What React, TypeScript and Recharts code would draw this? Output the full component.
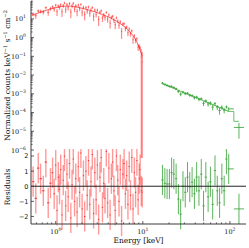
import React from 'react';
import { ComposedChart, Scatter, Line, XAxis, YAxis, ErrorBar, ReferenceLine } from 'recharts';

// soft band (red): bin centres in keV, flux, 1-sigma error, residual
const redEnergy = [
  0.55, 0.59, 0.63, 0.67, 0.72, 0.77, 0.82, 0.87, 0.92, 0.96,
  1.0, 1.035, 1.07, 1.105, 1.14, 1.18, 1.22, 1.26, 1.3, 1.345,
  1.39, 1.44, 1.49, 1.54, 1.59, 1.645, 1.7, 1.76, 1.82, 1.88,
  1.945, 2.01, 2.08, 2.15, 2.22, 2.3, 2.38, 2.46, 2.54, 2.63,
  2.72, 2.81, 2.91, 3.01, 3.11, 3.22, 3.33, 3.44, 3.56, 3.68,
  3.81, 3.94, 4.07, 4.21, 4.35, 4.5, 4.66, 4.82, 4.98, 5.15,
  5.33, 5.51, 5.7, 5.9, 6.1, 6.31, 6.52, 6.75, 6.98, 7.22,
  7.47, 7.72, 7.99, 8.26, 8.55, 8.84, 9.1, 9.32, 9.6, 9.85,
];
const redFlux = [
  17.7, 14.8, 26.6, 25.3, 23.3, 39.4, 22.4, 35.2, 44.1, 33.3,
  54, 24.7, 48.7, 41.3, 57, 24, 51, 70.8, 32.4, 57.6,
  39.6, 66, 22.8, 48.4, 67.1, 33.8, 49.5, 24.6, 54.5, 35.7,
  59, 23, 41.6, 17, 40.9, 26.6, 42.8, 20.1, 29.6, 40.2,
  13.8, 29.3, 17.7, 29.2, 9.3, 22.2, 26.9, 11.1, 16.7, 12,
  22.1, 9.6, 16.1, 6, 12, 13.8, 8.4, 4.9, 11.4, 7.6,
  4.6, 7.1, 2.1, 5.4, 5.5, 3.05, 3.66, 1.82, 2.9, 1.6,
  2.3, 0.77, 1.23, 0.72, 0.87, 0.31, 0.35, 0.28, 0.09, 0.05,
];
const redErr = [
  4.1, 4.6, 5.1, 5.6, 6.3, 7.0, 7.8, 8.4, 9.0, 9.5,
  10, 10.3, 10.6, 10.9, 11.2, 11.4, 11.6, 11.8, 12, 12,
  12, 12, 12, 11.8, 11.6, 11.3, 11, 10.6, 10.3, 9.9,
  9.5, 9.2, 8.8, 8.5, 8.2, 7.8, 7.5, 7.2, 6.9, 6.6,
  6.3, 6.0, 5.7, 5.4, 5.1, 4.8, 4.6, 4.3, 4.0, 3.8,
  3.5, 3.3, 3.1, 2.9, 2.7, 2.5, 2.3, 2.1, 1.9, 1.7,
  1.6, 1.4, 1.25, 1.1, 1.0, 0.9, 0.8, 0.65, 0.55, 0.48,
  0.4, 0.32, 0.26, 0.21, 0.16, 0.12, 0.09, 0.07, 0.16, 0.12,
];
const redResid = [
  0.3, -0.8, 1.2, 0.5, -0.3, 1.6, -1.1, 0.2, 0.9, -0.5,
  1.4, -1.6, 0.6, -0.2, 1.1, -1.9, 0.4, 2.0, -1.3, 0.8,
  -0.7, 1.5, -2.1, 0.1, 1.8, -1.0, 0.5, -1.7, 1.3, -0.4,
  2.2, -1.5, 0.7, -2.0, 1.0, -0.6, 1.7, -1.2, 0.3, 2.1,
  -1.8, 0.9, -0.9, 1.4, -2.2, 0.6, 1.9, -1.4, 0.2, -0.8,
  2.3, -1.1, 1.2, -1.9, 0.5, 1.6, -0.3, -1.6, 2.0, 0.4,
  -1.0, 1.1, -2.3, 0.8, 1.5, -0.5, 0.7, -1.2, 1.3, -0.6,
  1.9, -1.5, 0.9, -0.4, 1.7, -0.9, 0.5, 1.1, -0.3, -0.4,
];
const redModelE = [0.53, 0.6, 0.7, 0.8, 0.9, 1.0, 1.15, 1.3, 1.5, 1.7, 1.95, 2.2, 2.5, 2.8, 3.2, 3.6, 4.0, 4.5, 5.0, 5.5, 6.0, 6.5, 7.0, 7.5, 8.0, 8.5, 9.0, 9.5, 9.85];
const redModelFlux = [15.5, 19, 24, 30, 35, 40, 45, 48, 48, 44, 38, 33, 28, 24, 19.5, 15.5, 12.8, 9.8, 7.5, 5.6, 4.2, 3.1, 2.2, 1.5, 1.0, 0.62, 0.34, 0.16, 0.1];

// hard band (green)
const greenEnergy = [16.8, 17.9, 19.0, 20.2, 21.4, 22.7, 24.1, 25.6, 27.2, 28.9, 30.7, 32.6, 34.6, 36.8, 39.1, 41.5, 44.1, 46.9, 49.8, 52.9, 56.2, 59.7, 63.4, 67.4, 71.6, 76.1, 80.8, 85.9, 91.2, 96.9, 127];
const greenFlux = [3.72e-3, 3.18e-3, 2.82e-3, 2.51e-3, 2.49e-3, 2.18e-3, 1.87e-3, 1.34e-3, 0.96e-3, 1.22e-3, 1.02e-3, 1.07e-3, 8.5e-4, 8.0e-4, 6.2e-4, 6.7e-4, 5.1e-4, 5.5e-4, 3.1e-4, 4.2e-4, 2.85e-4, 3.2e-4, 1.95e-4, 3.0e-4, 1.93e-4, 1.29e-4, 1.9e-4, 1.35e-4, 2.0e-4, 1.57e-4, 1.6e-5];
const greenErr = [5.3e-4, 4.6e-4, 4.1e-4, 3.7e-4, 3.3e-4, 2.9e-4, 2.6e-4, 2.5e-4, 2.2e-4, 2.0e-4, 1.8e-4, 1.65e-4, 1.5e-4, 1.4e-4, 1.25e-4, 1.15e-4, 1.05e-4, 9.5e-5, 8.9e-5, 8.3e-5, 7.7e-5, 7.2e-5, 6.6e-5, 6.1e-5, 5.7e-5, 5.2e-5, 4.8e-5, 4.4e-5, 3.9e-5, 3.5e-5, 1.2e-5];
const greenResid = [0.42, 0.2, 0.15, 0.15, 0.9, 0.8, 0.5, -0.85, -1.85, 0, -0.4, 0.6, -0.05, 0.27, -0.5, 0.6, -0.3, 0.8, -1.3, 0.6, -0.7, 0.3, -1.2, 1.04, -0.3, -1.1, 0.5, -0.3, 1.8, 1.15, -1.5];
const greenModel = [3.5e-3, 3.09e-3, 2.76e-3, 2.45e-3, 2.19e-3, 1.95e-3, 1.74e-3, 1.55e-3, 1.37e-3, 1.22e-3, 1.09e-3, 9.7e-4, 8.6e-4, 7.65e-4, 6.8e-4, 6.06e-4, 5.38e-4, 4.77e-4, 4.25e-4, 3.78e-4, 3.36e-4, 2.99e-4, 2.66e-4, 2.36e-4, 2.1e-4, 1.87e-4, 1.66e-4, 1.45e-4, 1.28e-4, 1.15e-4, 3.4e-5];

// axes
const X_DOMAIN = [0.52, 153];
const Y_DOMAIN = [1e-6, 90];
const R_DOMAIN = [-2.5, 2.4];
const xTicks = [0.6, 0.7, 0.8, 0.9, 1, 2, 3, 4, 5, 6, 7, 8, 9, 10, 20, 30, 40, 50, 60, 70, 80, 90, 100];
const yDecades = [1e-6, 1e-5, 1e-4, 1e-3, 1e-2, 1e-1, 1, 10];
const yTicks = yDecades.flatMap((d) => [1, 2, 3, 4, 5, 6, 7, 8, 9].map((k) => k * d)).filter((v) => v <= 90);
const rTicks = [-2, -1, 0, 1, 2];

const AXIS = '#3a3a3a';
const RED_BAR = 'rgba(255,20,20,0.5)';
const RED_RES = 'rgba(255,30,30,0.45)';
const RED_MODEL = 'rgba(235,0,0,0.75)';
const GREEN_BAR = 'rgba(50,160,50,0.8)';
const GREEN_MODEL = 'rgba(80,180,80,0.85)';

// half bin widths in keV from neighbouring bin centres
const binHalf = (e: number[]) =>
  e.map((v, i) => {
    const lo = i > 0 ? Math.sqrt(v * e[i - 1]) : (v * v) / Math.sqrt(v * e[i + 1]);
    const hi = i < e.length - 1 ? Math.sqrt(v * e[i + 1]) : (v * v) / Math.sqrt(v * e[i - 1]);
    return [v - lo, hi - v];
  });

const redHalf = binHalf(redEnergy);
const redRows = redEnergy.map((e, i) => ({
  e,
  f: redFlux[i],
  ey: [redErr[i] < redFlux[i] ? redErr[i] : redFlux[i] - 1e-9, redErr[i]],
  ex: redHalf[i],
  r: redResid[i],
  ry: 1,
}));
const greenHalf = binHalf(greenEnergy);
const greenRows = greenEnergy.map((e, i) => ({
  e,
  f: greenFlux[i],
  ey: greenErr[i],
  ex: greenHalf[i],
  r: greenResid[i],
  ry: 1,
}));
const redModelRows = redModelE.map((e, i) => ({ e, m: redModelFlux[i] }));
const greenModelRows = greenEnergy.map((e, i) => ({ e, m: greenModel[i] }));

const isDecade = (v: number) => Math.abs(Math.log10(v) - Math.round(Math.log10(v))) < 1e-6;
const expText = (v: number) => String(Math.round(Math.log10(v))).replace('-', '\u2212');

const Pow = ({ x, y, v, anchor }: any) => (
  <text x={x} y={y} textAnchor={anchor} fontFamily="DejaVu Serif" fontSize={6.5} fill="#111">
    10
    <tspan dy={-3} fontSize={4.6}>
      {expText(v)}
    </tspan>
  </text>
);

const xTick = (dir: number, labels: boolean) => (p: any) => {
  const v = p.payload.value;
  const major = isDecade(v);
  const len = major ? 3 : 1.6;
  return (
    <g>
      <line x1={p.x} x2={p.x} y1={p.y} y2={p.y + dir * len} stroke={AXIS} strokeWidth={0.8} />
      {labels && major && <Pow x={p.x} y={p.y + 10} v={v} anchor="middle" />}
    </g>
  );
};

const logYTick = (dir: number, labels: boolean) => (p: any) => {
  const v = p.payload.value;
  const major = isDecade(v);
  const len = major ? 3 : 1.6;
  return (
    <g>
      <line x1={p.x} x2={p.x + dir * len} y1={p.y} y2={p.y} stroke={AXIS} strokeWidth={0.8} />
      {labels && major && <Pow x={p.x - 5} y={p.y + 2.5} v={v} anchor="end" />}
    </g>
  );
};

const linYTick = (dir: number, labels: boolean) => (p: any) => {
  const v = p.payload.value;
  return (
    <g>
      <line x1={p.x} x2={p.x + dir * 3} y1={p.y} y2={p.y} stroke={AXIS} strokeWidth={0.8} />
      {labels && (
        <text x={p.x - 2.5} y={p.y + 2.4} textAnchor="end" fontFamily="DejaVu Sans" fontSize={6.5} fill="#111">
          {String(v).replace('-', '\u2212')}
        </text>
      )}
    </g>
  );
};

const noDot = () => <g />;

const axisCommon = { axisLine: { stroke: AXIS, strokeWidth: 1 }, tickLine: false, tickSize: 0, tickMargin: 0, interval: 0 as const };

const SpectrumPanel = () => (
  <ComposedChart width={249} height={158} margin={{ top: 1, right: 3, bottom: 8, left: 0 }}>
    <XAxis xAxisId="b" dataKey="e" type="number" scale="log" domain={X_DOMAIN} allowDataOverflow ticks={xTicks} height={0} tick={xTick(-1, false)} {...axisCommon} />
    <XAxis xAxisId="t" dataKey="e" type="number" scale="log" domain={X_DOMAIN} allowDataOverflow ticks={xTicks} orientation="top" height={0} tick={xTick(1, false)} {...axisCommon} />
    <YAxis yAxisId="l" type="number" scale="log" domain={Y_DOMAIN} allowDataOverflow ticks={yTicks} width={31} tick={logYTick(1, true)} {...axisCommon} />
    <YAxis yAxisId="r" type="number" scale="log" domain={Y_DOMAIN} allowDataOverflow ticks={yTicks} orientation="right" width={0} tick={logYTick(-1, false)} {...axisCommon} />
    <Line xAxisId="b" yAxisId="l" data={redModelRows} dataKey="m" type="linear" stroke={RED_MODEL} strokeWidth={0.8} dot={false} activeDot={false} isAnimationActive={false} />
    <Scatter xAxisId="b" yAxisId="l" data={redRows} dataKey="f" shape={noDot} isAnimationActive={false}>
      <ErrorBar dataKey="ey" direction="y" width={0} stroke={RED_BAR} strokeWidth={1.2} />
      <ErrorBar dataKey="ex" direction="x" width={0} stroke={RED_BAR} strokeWidth={1} />
    </Scatter>
    <Line xAxisId="b" yAxisId="l" data={greenModelRows} dataKey="m" type="step" stroke={GREEN_MODEL} strokeWidth={1} dot={false} activeDot={false} isAnimationActive={false} />
    <Scatter xAxisId="b" yAxisId="l" data={greenRows} dataKey="f" shape={noDot} isAnimationActive={false}>
      <ErrorBar dataKey="ey" direction="y" width={0} stroke={GREEN_BAR} strokeWidth={1} />
      <ErrorBar dataKey="ex" direction="x" width={0} stroke={GREEN_BAR} strokeWidth={1} />
    </Scatter>
  </ComposedChart>
);

const ResidualPanel = () => (
  <ComposedChart width={249} height={99} margin={{ top: 1, right: 3, bottom: 0, left: 0 }}>
    <XAxis xAxisId="b" dataKey="e" type="number" scale="log" domain={X_DOMAIN} allowDataOverflow ticks={xTicks} height={24} tick={xTick(-1, true)} {...axisCommon} />
    <XAxis xAxisId="t" dataKey="e" type="number" scale="log" domain={X_DOMAIN} allowDataOverflow ticks={xTicks} orientation="top" height={0} tick={xTick(1, false)} {...axisCommon} />
    <YAxis yAxisId="l" type="number" domain={R_DOMAIN} allowDataOverflow ticks={rTicks} width={31} tick={linYTick(1, true)} {...axisCommon} />
    <YAxis yAxisId="r" type="number" domain={R_DOMAIN} allowDataOverflow ticks={rTicks} orientation="right" width={0} tick={linYTick(-1, false)} {...axisCommon} />
    <Scatter xAxisId="b" yAxisId="l" data={redRows} dataKey="r" shape={noDot} isAnimationActive={false}>
      <ErrorBar dataKey="ry" direction="y" width={0} stroke={RED_RES} strokeWidth={1.4} />
      <ErrorBar dataKey="ex" direction="x" width={0} stroke="rgba(235,0,0,0.7)" strokeWidth={1} />
    </Scatter>
    <Scatter xAxisId="b" yAxisId="l" data={greenRows} dataKey="r" shape={noDot} isAnimationActive={false}>
      <ErrorBar dataKey="ry" direction="y" width={0} stroke={GREEN_BAR} strokeWidth={1} />
      <ErrorBar dataKey="ex" direction="x" width={0} stroke={GREEN_BAR} strokeWidth={1} />
    </Scatter>
    <ReferenceLine xAxisId="b" yAxisId="l" y={0} stroke="#222" strokeWidth={1} />
  </ComposedChart>
);

export default function App() {
  return (
    <div style={{ position: 'absolute', left: 0, top: 0, width: 249, height: 248, background: '#fff', overflow: 'hidden' }}>
      <div style={{ position: 'absolute', left: 0, top: 0 }}>
        <SpectrumPanel />
      </div>
      <div style={{ position: 'absolute', left: 0, top: 149 }}>
        <ResidualPanel />
      </div>
      <svg width={249} height={248} style={{ position: 'absolute', left: 0, top: 0, pointerEvents: 'none' }}>
        <text transform="rotate(-90 10 75.5)" x={10} y={75.5} textAnchor="middle" fontFamily="DejaVu Serif" fontSize={7.5} fill="#111">
          Normalized counts keV<tspan dy={-3} fontSize={5}>{'\u22121'}</tspan>
          <tspan dy={3}> s</tspan><tspan dy={-3} fontSize={5}>{'\u22121'}</tspan>
          <tspan dy={3}> cm</tspan><tspan dy={-3} fontSize={5}>{'\u22122'}</tspan>
        </text>
        <text transform="rotate(-90 10 187)" x={10} y={187} textAnchor="middle" fontFamily="DejaVu Serif" fontSize={7.5} fill="#111">
          Residuals
        </text>
        <text x={138.5} y={243} textAnchor="middle" fontFamily="DejaVu Serif" fontSize={7.5} fill="#111">
          Energy [keV]
        </text>
      </svg>
    </div>
  );
}
